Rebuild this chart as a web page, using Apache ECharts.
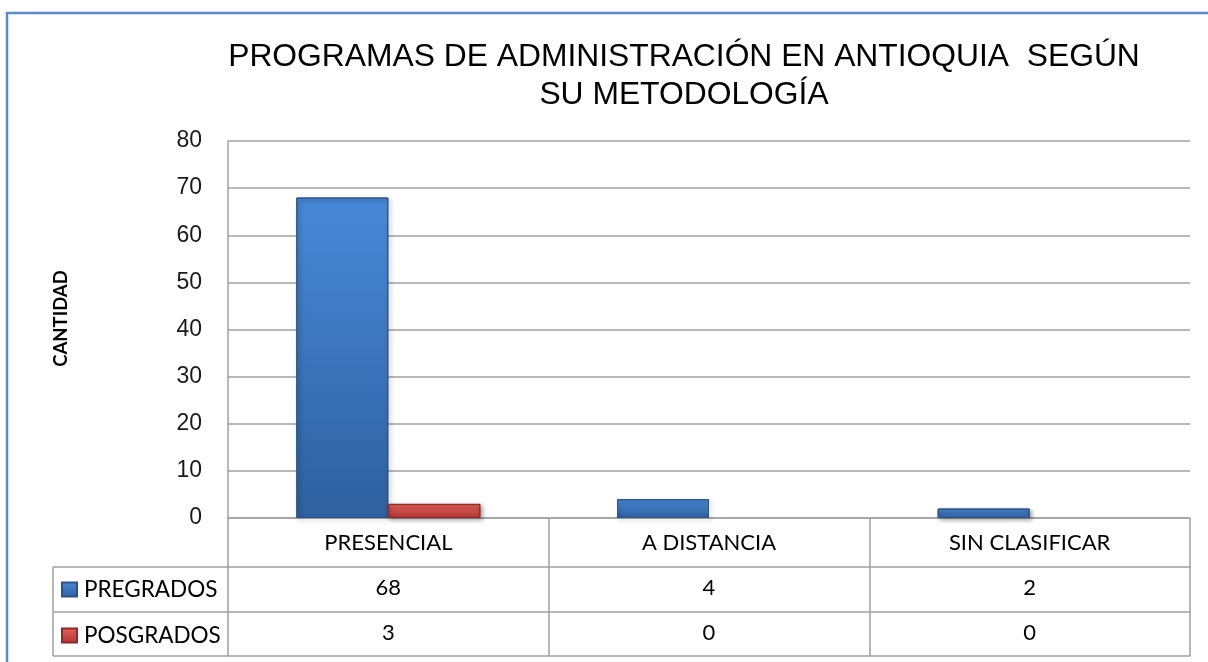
<!DOCTYPE html>
<html lang="es">
<head>
    <meta charset="UTF-8" />
    <title>Programas de administración en Antioquia</title>
    <script src="https://cdn.jsdelivr.net/npm/echarts@6/dist/echarts.min.js"></script>
    <style>
        html, body { margin: 0; padding: 0; background: #ffffff; }
        #main { width: 1208px; height: 662px; }
    </style>
</head>
<body>
    <div id="main"></div>
    <script type="text/javascript">
        // datos del gráfico
        var categorias = ['PRESENCIAL', 'A DISTANCIA', 'SIN CLASIFICAR'];
        var pregrados = [68, 4, 2];
        var posgrados = [3, 0, 0];
        var ticksY = [0, 10, 20, 30, 40, 50, 60, 70, 80];

        var chart = echarts.init(document.getElementById('main'));

        var gris = '#a0a0a0';
        var fuenteTabla = 'Lato';
        // posiciones de la tabla (en px desde la parte baja del grid)
        var filaCat = 49, filaPre = 94, filaPos = 138;
        var colIzq = 53;

        // un valor 0 no dibuja barra (igual que en Excel)
        function sinCeros(arr) {
            return arr.map(function (v) { return v === 0 ? '-' : v; });
        }

        var option = {
            backgroundColor: '#ffffff',
            animation: false,
            title: {
                text: 'PROGRAMAS DE ADMINISTRACIÓN EN ANTIOQUIA  SEGÚN\nSU METODOLOGÍA',
                left: 679,
                top: 33,
                textAlign: 'center',
                textStyle: {
                    fontFamily: 'Liberation Sans',
                    fontWeight: 'normal',
                    fontSize: 31.8,
                    lineHeight: 38,
                    color: '#000'
                }
            },
            legend: {
                orient: 'vertical',
                left: 56,
                top: 573,
                itemWidth: 15,
                itemHeight: 14,
                itemGap: 23,
                icon: 'rect',
                data: ['PREGRADOS', 'POSGRADOS'],
                textStyle: { fontFamily: fuenteTabla, fontSize: 22.5, color: '#000', padding: [0, 0, 0, 2] }
            },
            grid: { left: 228, right: 18, top: 141, bottom: 144, containLabel: false },
            yAxis: {
                type: 'value',
                min: 0,
                max: 80,
                interval: 10,
                name: 'CANTIDAD',
                nameLocation: 'middle',
                nameGap: 157,
                nameTextStyle: { fontFamily: fuenteTabla, fontWeight: 'bold', fontSize: 18.5, color: '#000', padding: [0, 0, 0, 22] },
                axisLine: { show: true, lineStyle: { color: gris, width: 1.5 } },
                axisTick: { show: false },
                axisLabel: {
                    margin: 26,
                    fontFamily: 'Liberation Sans',
                    fontSize: 23,
                    color: '#1a1a1a',
                    formatter: function (v) { return ticksY.indexOf(v) >= 0 ? String(v) : ''; }
                },
                splitLine: { lineStyle: { color: gris, width: 1.5 } }
            },
            xAxis: [
                {
                    type: 'category',
                    data: categorias,
                    axisLine: { lineStyle: { color: gris, width: 1.5 } },
                    axisTick: { show: true, interval: 0, length: filaPos, lineStyle: { color: gris, width: 1.5 } },
                    axisLabel: { margin: 14, fontFamily: fuenteTabla, fontSize: 22, color: '#000' }
                },
                {
                    type: 'category',
                    data: categorias,
                    position: 'bottom',
                    offset: filaCat,
                    axisLine: { lineStyle: { color: gris, width: 1.5 } },
                    axisTick: { show: false },
                    axisLabel: {
                        margin: 10, fontFamily: fuenteTabla, fontSize: 22, color: '#000',
                        formatter: function (v, i) { return String(pregrados[i]); }
                    }
                },
                {
                    type: 'category',
                    data: categorias,
                    position: 'bottom',
                    offset: filaPre,
                    axisLine: { lineStyle: { color: gris, width: 1.5 } },
                    axisTick: { show: false },
                    axisLabel: {
                        margin: 10, fontFamily: fuenteTabla, fontSize: 22, color: '#000',
                        formatter: function (v, i) { return String(posgrados[i]); }
                    }
                },
                {
                    type: 'category',
                    data: categorias,
                    position: 'bottom',
                    offset: filaPos,
                    axisLine: { lineStyle: { color: gris, width: 1.5 } },
                    axisTick: { show: false },
                    axisLabel: { show: false }
                }
            ],
            series: [
                {
                    name: 'PREGRADOS',
                    type: 'bar',
                    data: sinCeros(pregrados),
                    barWidth: 92,
                    barGap: '0%',
                    itemStyle: {
                        color: new echarts.graphic.LinearGradient(0, 0, 0, 1, [
                            { offset: 0, color: '#4889d8' },
                            { offset: 1, color: '#2f609f' }
                        ]),
                        borderColor: '#2a5387',
                        borderWidth: 1,
                        shadowColor: 'rgba(0,0,0,0.35)',
                        shadowBlur: 4,
                        shadowOffsetX: 2,
                        shadowOffsetY: 2
                    }
                },
                {
                    name: 'POSGRADOS',
                    type: 'bar',
                    data: sinCeros(posgrados),
                    barWidth: 92,
                    itemStyle: {
                        color: new echarts.graphic.LinearGradient(0, 0, 0, 1, [
                            { offset: 0, color: '#e5605b' },
                            { offset: 1, color: '#b13632' }
                        ]),
                        borderColor: '#8e2b28',
                        borderWidth: 1,
                        shadowColor: 'rgba(0,0,0,0.35)',
                        shadowBlur: 4,
                        shadowOffsetX: 2,
                        shadowOffsetY: 2
                    }
                }
            ]
        };
        chart.setOption(option);

        // marco exterior y columna de la leyenda de la tabla
        var x0 = chart.convertToPixel({ xAxisIndex: 0 }, categorias[0]);
        var anchoCat = chart.convertToPixel({ xAxisIndex: 0 }, categorias[1]) - x0;
        var izqGrid = Math.round(x0 - anchoCat / 2);
        var baseY = chart.convertToPixel({ yAxisIndex: 0 }, 0);
        var estiloTabla = { stroke: gris, lineWidth: 1.5 };
        chart.setOption({
            graphic: [
                { type: 'polyline', shape: { points: [[7, 662], [7, 13], [1208, 13]] }, style: { stroke: '#5b8bc8', lineWidth: 2.5, fill: null } },
                { type: 'line', shape: { x1: colIzq, y1: baseY + filaCat, x2: izqGrid, y2: baseY + filaCat }, style: estiloTabla },
                { type: 'line', shape: { x1: colIzq, y1: baseY + filaPre, x2: izqGrid, y2: baseY + filaPre }, style: estiloTabla },
                { type: 'line', shape: { x1: colIzq, y1: baseY + filaPos, x2: izqGrid, y2: baseY + filaPos }, style: estiloTabla },
                { type: 'line', shape: { x1: colIzq, y1: baseY + filaCat, x2: colIzq, y2: baseY + filaPos }, style: estiloTabla }
            ]
        });
    </script>
</body>
</html>
